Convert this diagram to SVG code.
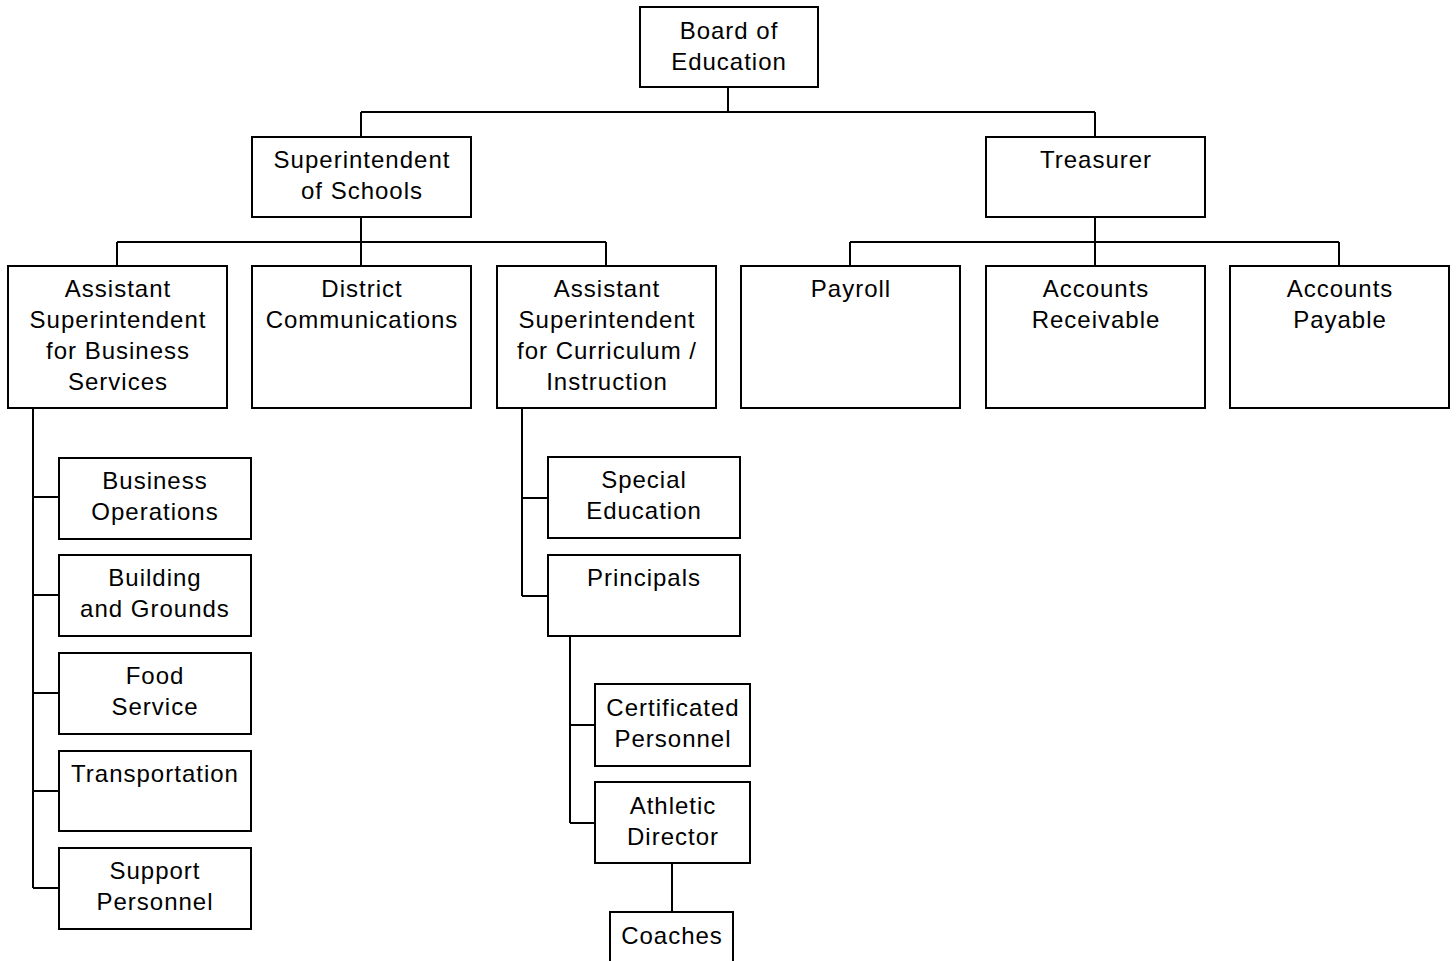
<svg xmlns="http://www.w3.org/2000/svg" width="1456" height="961" viewBox="0 0 1456 961">
<style>
.box{fill:#fff;stroke:#000;stroke-width:2}
.t{font-family:"Liberation Sans",Arial,sans-serif;font-size:24px;letter-spacing:1px;fill:#000;text-anchor:middle}
.c{fill:none;stroke:#000;stroke-width:2}
</style>
<rect width="1456" height="961" fill="#fff"/>
<g id="connectors" class="c">
<path d="M728 87V112M361 112H1095M361 112V137M1095 112V137"/>
<path d="M361 217V266M117 242H606M117 242V266M606 242V266"/>
<path d="M1095 217V266M850 242H1339M850 242V266M1339 242V266"/>
<path d="M33 408V888M33 497H59M33 595H59M33 693H59M33 791H59M33 888H59"/>
<path d="M522 408V596M522 498H548M522 596H548"/>
<path d="M570 636V823M570 725H595M570 823H595"/>
<path d="M672 863V912"/>
</g>
<g id="board"><rect class="box" x="640" y="7" width="178" height="80"/><text class="t" x="729" y="39">Board of</text><text class="t" x="729" y="70">Education</text></g>
<g id="superintendent"><rect class="box" x="252" y="137" width="219" height="80"/><text class="t" x="362" y="168">Superintendent</text><text class="t" x="362" y="199">of Schools</text></g>
<g id="treasurer"><rect class="box" x="986" y="137" width="219" height="80"/><text class="t" x="1096" y="168">Treasurer</text></g>
<g id="asst-business"><rect class="box" x="8" y="266" width="219" height="142"/><text class="t" x="118" y="297">Assistant</text><text class="t" x="118" y="328">Superintendent</text><text class="t" x="118" y="359">for Business</text><text class="t" x="118" y="390">Services</text></g>
<g id="district-comm"><rect class="box" x="252" y="266" width="219" height="142"/><text class="t" x="362" y="297">District</text><text class="t" x="362" y="328">Communications</text></g>
<g id="asst-curriculum"><rect class="box" x="497" y="266" width="219" height="142"/><text class="t" x="607" y="297">Assistant</text><text class="t" x="607" y="328">Superintendent</text><text class="t" x="607" y="359">for Curriculum /</text><text class="t" x="607" y="390">Instruction</text></g>
<g id="payroll"><rect class="box" x="741" y="266" width="219" height="142"/><text class="t" x="851" y="297">Payroll</text></g>
<g id="accounts-receivable"><rect class="box" x="986" y="266" width="219" height="142"/><text class="t" x="1096" y="297">Accounts</text><text class="t" x="1096" y="328">Receivable</text></g>
<g id="accounts-payable"><rect class="box" x="1230" y="266" width="219" height="142"/><text class="t" x="1340" y="297">Accounts</text><text class="t" x="1340" y="328">Payable</text></g>
<g id="business-operations"><rect class="box" x="59" y="458" width="192" height="81"/><text class="t" x="155" y="489">Business</text><text class="t" x="155" y="520">Operations</text></g>
<g id="building-grounds"><rect class="box" x="59" y="555" width="192" height="81"/><text class="t" x="155" y="586">Building</text><text class="t" x="155" y="617">and Grounds</text></g>
<g id="food-service"><rect class="box" x="59" y="653" width="192" height="81"/><text class="t" x="155" y="684">Food</text><text class="t" x="155" y="715">Service</text></g>
<g id="transportation"><rect class="box" x="59" y="751" width="192" height="80"/><text class="t" x="155" y="782">Transportation</text></g>
<g id="support-personnel"><rect class="box" x="59" y="848" width="192" height="81"/><text class="t" x="155" y="879">Support</text><text class="t" x="155" y="910">Personnel</text></g>
<g id="special-education"><rect class="box" x="548" y="457" width="192" height="81"/><text class="t" x="644" y="488">Special</text><text class="t" x="644" y="519">Education</text></g>
<g id="principals"><rect class="box" x="548" y="555" width="192" height="81"/><text class="t" x="644" y="586">Principals</text></g>
<g id="certificated-personnel"><rect class="box" x="595" y="684" width="155" height="82"/><text class="t" x="673" y="716">Certificated</text><text class="t" x="673" y="747">Personnel</text></g>
<g id="athletic-director"><rect class="box" x="595" y="782" width="155" height="81"/><text class="t" x="673" y="814">Athletic</text><text class="t" x="673" y="845">Director</text></g>
<g id="coaches"><rect class="box" x="610" y="912" width="123" height="60"/><text class="t" x="672" y="944">Coaches</text></g>
</svg>
